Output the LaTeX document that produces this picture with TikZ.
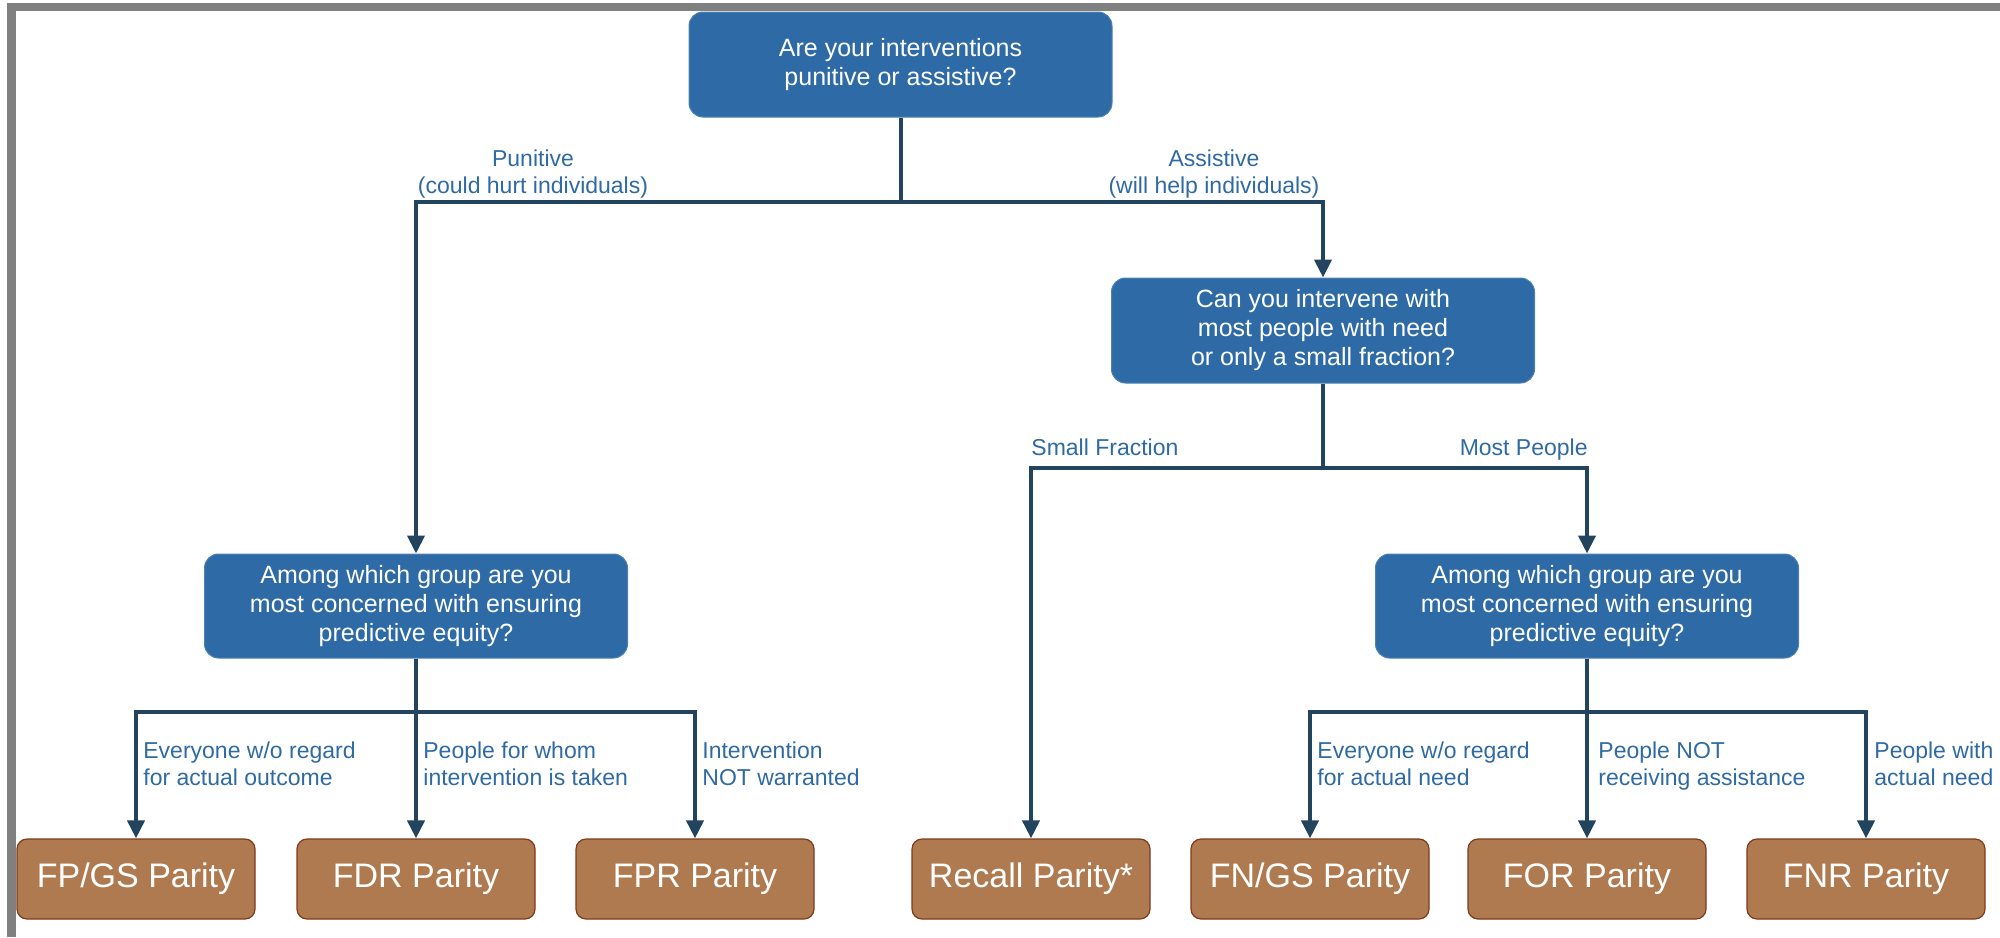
\documentclass[tikz,border=0pt]{standalone}
\usepackage{fontspec}
\setmainfont{Liberation Sans}
\usetikzlibrary{arrows.meta}
\definecolor{boxblue}{HTML}{2E6BA6}
\definecolor{linenavy}{HTML}{22445F}
\definecolor{labelblue}{HTML}{2F6AA3}
\definecolor{brownfill}{HTML}{B07A50}
\definecolor{brownedge}{HTML}{7E3A1C}
\definecolor{framegray}{HTML}{808080}
\begin{document}
\begin{tikzpicture}[x=0.5pt,y=-0.5pt,
  qbox/.style={rectangle, rounded corners=7pt, fill=boxblue, draw=boxblue!85!white, line width=0.5pt, text=white, align=center, font=\fontsize{12.5}{14.5}\selectfont, inner sep=0pt, minimum width=211.5pt, minimum height=52.5pt},
  pbox/.style={rectangle, rounded corners=5pt, fill=brownfill, draw=brownedge, line width=0.6pt, text=white, minimum width=119pt, minimum height=40pt, font=\fontsize{17}{20}\selectfont, inner sep=0pt},
  lbl/.style={text=labelblue, font=\fontsize{11.5}{13.5}\selectfont, inner sep=0pt},
  conn/.style={draw=linenavy, line width=2pt},
  arr/.style={conn, -{Triangle[length=9pt,width=8.5pt]}}]

\useasboundingbox (0,0) rectangle (2000,937);
\fill[framegray] (7,3) rectangle (2000,11);
\fill[framegray] (7,3) rectangle (16,937);

% question boxes
\node[qbox] (top) at (900.5,64.5) {Are your interventions\\punitive or assistive?};
\node[qbox] (can) at (1323,330.5) {Can you intervene with\\most people with need\\or only a small fraction?};
\node[qbox, minimum height=52pt] (grpL) at (416,606) {Among which group are you\\most concerned with ensuring\\predictive equity?};
\node[qbox, minimum height=52pt] (grpR) at (1587,606) {Among which group are you\\most concerned with ensuring\\predictive equity?};

% parity boxes
\node[pbox] (fpgs) at (136,879) {FP/GS Parity};
\node[pbox] (fdr) at (416,879) {FDR Parity};
\node[pbox] (fpr) at (695,879) {FPR Parity};
\node[pbox] (recall) at (1031,879) {Recall Parity*};
\node[pbox] (fngs) at (1310,879) {FN/GS Parity};
\node[pbox] (forp) at (1587,879) {FOR Parity};
\node[pbox] (fnr) at (1866,879) {FNR Parity};

% junctions
\coordinate (j1) at (900.5,202);
\coordinate (j2) at (1323,468);
\coordinate (j3) at (416,712);
\coordinate (j4) at (1587,712);

% connectors
\draw[conn] (top.south) -- (j1);
\draw[arr] (j1) -| (grpL.north);
\draw[arr] (j1) -| (can.north);
\draw[conn] (can.south) -- (j2);
\draw[arr] (j2) -| (recall.north);
\draw[arr] (j2) -| (grpR.north);
\draw[conn] (grpL.south) -- (j3);
\draw[arr] (j3) -| (fpgs.north);
\draw[arr] (j3) -- (fdr.north);
\draw[arr] (j3) -| (fpr.north);
\draw[conn] (grpR.south) -- (j4);
\draw[arr] (j4) -| (fngs.north);
\draw[arr] (j4) -- (forp.north);
\draw[arr] (j4) -| (fnr.north);

% labels
\node[lbl, align=center, anchor=north] (lpun) at (533,149) {Punitive\\(could hurt individuals)};
\node[lbl, align=center, anchor=north] (lass) at (1214,149) {Assistive\\(will help individuals)};
\node[lbl, anchor=base west] (lsmall) at (1031,455) {Small Fraction};
\node[lbl, anchor=base east] (lmost) at (1588,455) {Most People};
\node[lbl, align=left, anchor=north west] (l1) at (143,741) {Everyone w/o regard\\for actual outcome};
\node[lbl, align=left, anchor=north west] (l2) at (423,741) {People for whom\\intervention is taken};
\node[lbl, align=left, anchor=north west] (l3) at (702,741) {Intervention\\NOT warranted};
\node[lbl, align=left, anchor=north west] (l4) at (1317,741) {Everyone w/o regard\\for actual need};
\node[lbl, align=left, anchor=north west] (l5) at (1598,741) {People NOT\\receiving assistance};
\node[lbl, align=left, anchor=north west] (l6) at (1874,741) {People with\\actual need};
\end{tikzpicture}
\end{document}
